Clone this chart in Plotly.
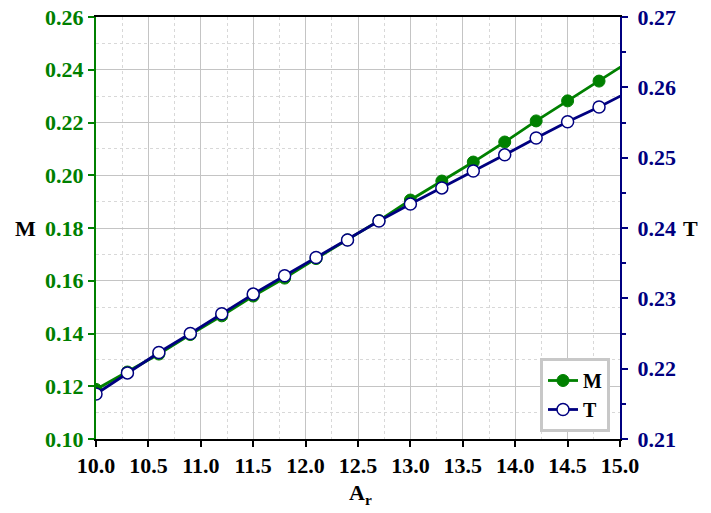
import plotly.graph_objects as go

# Data
ar = [10.0, 10.3, 10.6, 10.9, 11.2, 11.5, 11.8, 12.1, 12.4, 12.7, 13.0,
      13.3, 13.6, 13.9, 14.2, 14.5, 14.8, 15.1]
m_vals = [0.1188, 0.1254, 0.1322, 0.1396, 0.1467, 0.1542, 0.1610, 0.1684,
          0.1755, 0.1828, 0.1906, 0.1978, 0.2050, 0.2126, 0.2206, 0.2282,
          0.2357, 0.2434]
t_vals = [0.2164, 0.2194, 0.2223, 0.2250, 0.2278, 0.2306, 0.2332, 0.2358,
          0.2383, 0.2410, 0.2434, 0.2457, 0.2481, 0.2504, 0.2528, 0.2551,
          0.2572, 0.2595]

GREEN = "#008000"
NAVY = "#000080"
FONT = "Liberation Serif"
FS = 22

L, R, T, B = 96, 91, 17, 74
W, H = 711, 513
pw, ph = W - L - R, H - T - B

fig = go.Figure()
fig.add_trace(go.Scatter(
    x=ar, y=m_vals, name="<b>M</b>", mode="lines+markers",
    line=dict(color=GREEN, width=2.8),
    marker=dict(symbol="circle", size=12, color=GREEN, line=dict(color=GREEN, width=1)),
    yaxis="y"))
fig.add_trace(go.Scatter(
    x=ar, y=t_vals, name="<b>T</b>", mode="lines+markers",
    line=dict(color=NAVY, width=2.8),
    marker=dict(symbol="circle", size=12, color="white", line=dict(color=NAVY, width=1.5)),
    yaxis="y2"))

def px_x(x):
    return (x - L) / pw

def px_y(y):
    return (H - B - y) / ph

fig.update_layout(
    width=W, height=H,
    margin=dict(l=L, r=R, t=T, b=B, autoexpand=False),
    paper_bgcolor="white", plot_bgcolor="white",
    font=dict(family=FONT, size=FS, color="black"),
    showlegend=True,
    legend=dict(x=px_x(610), y=px_y(432), xanchor="right", yanchor="bottom",
                bgcolor="white", bordercolor="#c8c8c8", borderwidth=3,
                font=dict(family=FONT, size=20, color="black"),
                tracegroupgap=0, itemwidth=30),
    xaxis=dict(range=[10.0, 15.0], dtick=0.5, tick0=10.0, tickformat=".1f",
               automargin=False,
               showline=True, linecolor="black", linewidth=2, mirror=True,
               ticks="outside", ticklen=6, tickwidth=2, tickcolor="black",
               tickfont=dict(family=FONT, size=FS, color="black"),
               showgrid=True, gridcolor="#c4c4c4", gridwidth=1, zeroline=False,
               minor=dict(dtick=0.25, showgrid=True, gridcolor="#d8d8d8",
                          griddash="dot", gridwidth=1)),
    yaxis=dict(range=[0.10, 0.26], dtick=0.02, tick0=0.10, tickformat=".2f",
               automargin=False,
               showline=True, linecolor=GREEN, linewidth=2,
               ticks="outside", ticklen=6, tickwidth=2, tickcolor=GREEN,
               tickfont=dict(family=FONT, size=FS, color=GREEN),
               showgrid=True, gridcolor="#c4c4c4", gridwidth=1, zeroline=False,
               minor=dict(dtick=0.01, showgrid=True, gridcolor="#d8d8d8",
                          griddash="dot", gridwidth=1)),
    yaxis2=dict(range=[0.21, 0.27], dtick=0.01, tick0=0.21, tickformat=".2f",
                automargin=False,
                overlaying="y", side="right",
                showline=True, linecolor=NAVY, linewidth=2,
                ticks="outside", ticklen=6, tickwidth=2, tickcolor=NAVY,
                tickfont=dict(family=FONT, size=FS, color=NAVY),
                ticklabelstandoff=5,
                showgrid=False, zeroline=False,
                minor=dict(dtick=0.005, ticks="outside", ticklen=4,
                           tickwidth=2, tickcolor=NAVY, showgrid=False)),
    annotations=[
        dict(text="<b>M</b>", x=px_x(25), y=px_y(228), xref="paper", yref="paper",
             xanchor="center", yanchor="middle",
             showarrow=False, font=dict(family=FONT, size=FS, color="black")),
        dict(text="<b>T</b>", x=px_x(690), y=px_y(228), xref="paper", yref="paper",
             xanchor="center", yanchor="middle",
             showarrow=False, font=dict(family=FONT, size=FS, color="black")),
        dict(text="<b>A<sub>r</sub></b>", x=px_x(360), y=px_y(494), xref="paper", yref="paper",
             xanchor="center", yanchor="middle",
             showarrow=False, font=dict(family=FONT, size=FS, color="black")),
    ],
)

fig.update_xaxes(tickprefix="<b>", ticksuffix="</b>")
fig.update_yaxes(tickprefix="<b>", ticksuffix="</b>")
fig.update_layout(yaxis2=dict(tickprefix="<b>", ticksuffix="</b>"))

fig.write_html("out.html", config={"displayModeBar": False},
               post_script="document.body.style.margin='0';document.body.style.padding='0';")
